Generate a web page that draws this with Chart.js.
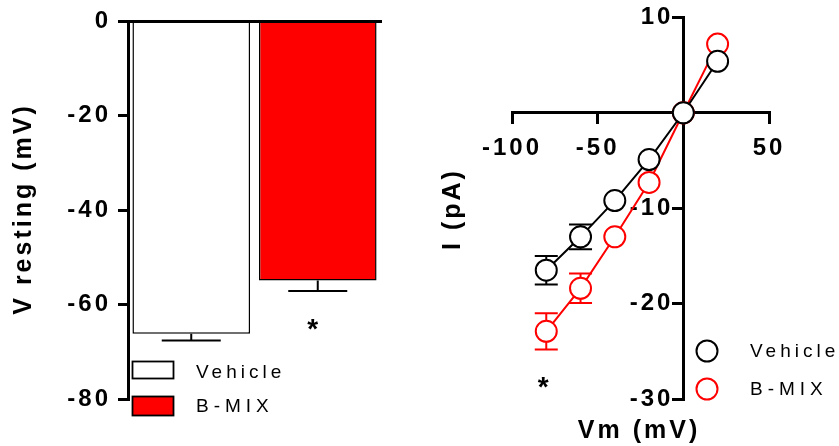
<!DOCTYPE html>
<html>
<head>
<meta charset="utf-8">
<script src="https://cdn.jsdelivr.net/npm/chart.js@4.4.1/dist/chart.umd.min.js"></script>
<style>
  html, body { margin: 0; padding: 0; background: #fff; }
  #wrap { position: relative; width: 839px; height: 446px; overflow: hidden; }
  canvas { position: absolute; top: 0; }
  #left { left: 0; }
  #right { left: 420px; }
</style>
</head>
<body>
<div id="wrap">
  <canvas id="left" width="430" height="446"></canvas>
  <canvas id="right" width="419" height="446"></canvas>
</div>
<script>
// ---------- data ----------
const barCategories = ['Vehicle', 'B-MIX'];
const restingMean = [-66.2, -54.9];
const restingSem = [1.4, 2.2];
const leftYTicks = [-80, -60, -40, -20, 0];

const vm = [-80, -60, -40, -20, 0, 20];
const vehicleI = [-16.5, -13.0, -9.2, -4.9, 0, 5.4];
const vehicleSem = [1.5, 1.3, 0, 0, 0, 0];
const bmixI = [-22.9, -18.4, -13.0, -7.3, 0, 7.2];
const bmixSem = [1.9, 1.55, 0, 0, 0, 0];
const rightXTicks = [-100, -50, 0, 50];
const rightYTicks = [-30, -20, -10, 0, 10];

// ---------- style ----------
const FAM = "'Liberation Sans', Arial, sans-serif";
const BLACK = '#000000';
const RED = '#ff0000';

function drawText(ctx, s, x, y, font, ls, align, rot) {
  ctx.save();
  ctx.font = font;
  ctx.letterSpacing = ls + 'px';
  ctx.fillStyle = BLACK;
  ctx.textAlign = align || 'left';
  ctx.textBaseline = 'middle';
  ctx.translate(x, y);
  if (rot) ctx.rotate(rot);
  ctx.fillText(s, 0, 0);
  ctx.restore();
}

const spacingPlugin = {
  id: 'spacing',
  beforeDraw(chart) { chart.ctx.letterSpacing = '3px'; }
};

// ---------- left bar chart ----------
const leftDecor = {
  id: 'leftDecor',
  afterDatasetsDraw(chart) {
    const ctx = chart.ctx, xs = chart.scales.x, ys = chart.scales.y;
    ctx.save();
    ctx.strokeStyle = BLACK; ctx.lineWidth = 2;
    restingMean.forEach((m, i) => {
      const x = xs.getPixelForValue(i);
      const y1 = ys.getPixelForValue(m), y2 = ys.getPixelForValue(m - restingSem[i]);
      ctx.beginPath();
      ctx.moveTo(x, y1); ctx.lineTo(x, y2);
      ctx.moveTo(x - 29.5, y2); ctx.lineTo(x + 29.5, y2);
      ctx.stroke();
    });
    ctx.restore();
    // significance marker under B-MIX
    const ax = xs.getPixelForValue(1) - 5;
    const ay = ys.getPixelForValue(restingMean[1] - restingSem[1]) + 33;
    drawText(ctx, '*', ax, ay + 6, 'bold 28px ' + FAM, 0, 'center');
  },
  afterDraw(chart) {
    const ctx = chart.ctx;
    drawText(ctx, 'V resting (mV)', 24, 209, 'bold 25px ' + FAM, 3, 'center', -Math.PI / 2);
    // legend
    ctx.save();
    ctx.lineWidth = 1.8; ctx.strokeStyle = BLACK;
    ctx.fillStyle = '#ffffff';
    ctx.fillRect(132.5, 361.5, 41, 17); ctx.strokeRect(132.5, 361.5, 41, 17);
    ctx.fillStyle = RED;
    ctx.fillRect(132.5, 396.5, 41, 19); ctx.strokeRect(132.5, 396.5, 41, 19);
    ctx.restore();
    drawText(ctx, 'Vehicle', 196, 373, '19px ' + FAM, 4, 'left');
    drawText(ctx, 'B-MIX', 196, 407, '19px ' + FAM, 5, 'left');
  }
};

new Chart(document.getElementById('left'), {
  type: 'bar',
  data: {
    labels: barCategories,
    datasets: [{
      data: restingMean,
      backgroundColor: ['#ffffff', RED],
      borderColor: BLACK,
      borderWidth: 1.5,
      barPercentage: 0.93,
      categoryPercentage: 1
    }]
  },
  options: {
    responsive: false, animation: false, devicePixelRatio: 1,
    layout: { padding: { left: 0, top: 0, right: 49, bottom: 47 } },
    plugins: { legend: { display: false }, tooltip: { enabled: false } },
    scales: {
      x: {
        position: 'top',
        grid: { display: false },
        ticks: { display: false },
        border: { display: true, color: BLACK, width: 3 },
        afterFit: s => { s.height = 16; }
      },
      y: {
        min: -80, max: 0,
        afterBuildTicks: s => { s.ticks = leftYTicks.map(v => ({ value: v })); },
        ticks: { color: BLACK, font: { family: FAM, size: 24, weight: 'bold' }, padding: 7 },
        grid: { drawOnChartArea: false, drawTicks: true, tickLength: 10, lineWidth: 3, color: BLACK },
        border: { display: true, color: BLACK, width: 3 },
        afterFit: s => { s.width = 128; }
      }
    }
  },
  plugins: [spacingPlugin, leftDecor]
});

// ---------- right I-V chart ----------
const ivSeries = [
  { mean: vehicleI, sem: vehicleSem, color: BLACK },
  { mean: bmixI, sem: bmixSem, color: RED }
];

const rightDecor = {
  id: 'rightDecor',
  beforeDraw(chart) {
    const ys = chart.scales.y, xs = chart.scales.x;
    const items = ys.getLabelItems();
    const ax = xs.getPixelForValue(0);
    items.forEach(it => {
      it.options.textAlign = 'right';
      it.options.translation[0] = ax - 10;
    });
  },
  beforeDatasetsDraw(chart) {
    const ctx = chart.ctx, xs = chart.scales.x, ys = chart.scales.y;
    ctx.save();
    ctx.lineWidth = 2;
    ivSeries.forEach(s => {
      ctx.strokeStyle = s.color;
      vm.forEach((v, i) => {
        if (!s.sem[i]) return;
        const x = xs.getPixelForValue(v);
        const yt = ys.getPixelForValue(s.mean[i] + s.sem[i]);
        const yb = ys.getPixelForValue(s.mean[i] - s.sem[i]);
        ctx.beginPath();
        ctx.moveTo(x, yt); ctx.lineTo(x, yb);
        ctx.moveTo(x - 11.5, yt); ctx.lineTo(x + 11.5, yt);
        ctx.moveTo(x - 11.5, yb); ctx.lineTo(x + 11.5, yb);
        ctx.stroke();
      });
    });
    ctx.restore();
  },
  afterDraw(chart) {
    const ctx = chart.ctx, xs = chart.scales.x, ys = chart.scales.y;
    drawText(ctx, 'I (pA)', 33, 209, 'bold 25px ' + FAM, 3, 'center', -Math.PI / 2);
    drawText(ctx, 'Vm (mV)', 219, 431, 'bold 25px ' + FAM, 3, 'center');
    // significance marker
    const sx = xs.getPixelForValue(vm[0]) - 3;
    const sy = ys.getPixelForValue(bmixI[0] - bmixSem[0]) + 33;
    drawText(ctx, '*', sx, sy + 6, 'bold 28px ' + FAM, 0, 'center');
    // legend
    ctx.save();
    ctx.lineWidth = 2;
    [[BLACK, 351], [RED, 389]].forEach(([c, y]) => {
      ctx.beginPath();
      ctx.arc(287, y, 10.5, 0, Math.PI * 2);
      ctx.fillStyle = '#fff'; ctx.fill();
      ctx.strokeStyle = c; ctx.stroke();
    });
    ctx.restore();
    drawText(ctx, 'Vehicle', 330, 352, '19px ' + FAM, 4, 'left');
    drawText(ctx, 'B-MIX', 330, 390, '19px ' + FAM, 5, 'left');
  }
};

function ivDataset(label, ys, color) {
  return {
    label,
    data: vm.map((x, i) => ({ x, y: ys[i] })),
    showLine: true,
    borderColor: color,
    backgroundColor: '#ffffff',
    borderWidth: 2,
    pointRadius: 10.5,
    pointHoverRadius: 10.5,
    pointBorderWidth: 2,
    pointBackgroundColor: '#ffffff',
    pointBorderColor: color
  };
}

new Chart(document.getElementById('right'), {
  type: 'scatter',
  data: {
    datasets: [
      ivDataset('Vehicle', vehicleI, BLACK),
      ivDataset('B-MIX', bmixI, RED)
    ]
  },
  options: {
    responsive: false, animation: false, devicePixelRatio: 1,
    layout: { padding: { left: 92, right: 70, top: 16, bottom: 47 } },
    plugins: { legend: { display: false }, tooltip: { enabled: false } },
    scales: {
      x: {
        type: 'linear', position: { y: 0 }, min: -100, max: 50,
        afterBuildTicks: s => { s.ticks = rightXTicks.map(v => ({ value: v })); },
        ticks: {
          color: BLACK, font: { family: FAM, size: 24, weight: 'bold' }, padding: 11,
          maxRotation: 0, autoSkip: false,
          callback: v => (v === 0 ? '' : String(v))
        },
        grid: { drawOnChartArea: false, drawTicks: true, tickLength: 10, lineWidth: 3, color: BLACK },
        border: { display: true, color: BLACK, width: 3 },
        afterFit: s => { s.height = 0; }
      },
      y: {
        type: 'linear', position: { x: 0 }, min: -30, max: 10,
        afterBuildTicks: s => { s.ticks = rightYTicks.map(v => ({ value: v })); },
        ticks: {
          color: BLACK, font: { family: FAM, size: 24, weight: 'bold' }, padding: 3,
          autoSkip: false,
          callback: v => (v === 0 ? '' : String(v))
        },
        grid: { drawOnChartArea: false, drawTicks: true, tickLength: 10, lineWidth: 3, color: BLACK },
        border: { display: true, color: BLACK, width: 3 },
        afterFit: s => { s.width = 0; }
      }
    }
  },
  plugins: [spacingPlugin, rightDecor]
});
</script>
</body>
</html>
